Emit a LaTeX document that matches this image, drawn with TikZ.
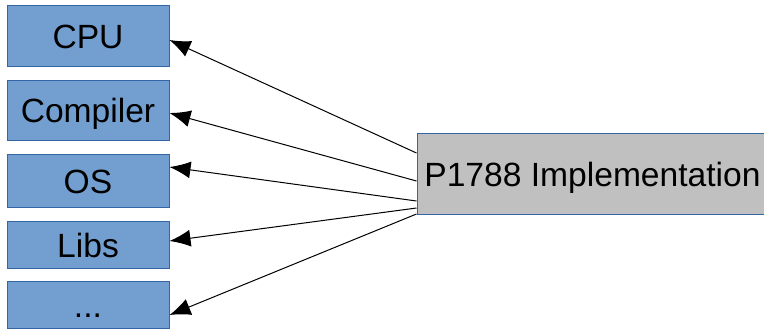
\documentclass[tikz,border=0pt]{standalone}
\usepackage{fontspec}
\setmainfont{Liberation Sans}
\definecolor{boxblue}{RGB}{114,159,207}
\definecolor{edgeblue}{RGB}{52,101,164}
\definecolor{implgray}{RGB}{192,192,192}
\usetikzlibrary{arrows.meta}

\tikzset{
  part/.style={draw=edgeblue, fill=boxblue, line width=0.5pt, inner sep=0pt,
    minimum width=81pt, text height=14pt, text depth=1.5pt,
    font=\fontsize{16.8}{20}\selectfont},
  dep/.style={-{Latex[length=10.5pt, width=8.5pt]}, line width=0.5pt}
}

\begin{document}
\begin{tikzpicture}[x=0.5pt, y=-0.5pt]
  \clip (0,0) rectangle (764,328);
  % things an implementation depends on
  \node[part, minimum height=30.5pt] (cpu) at (88, 35.5) {CPU};
  \node[part, minimum height=30pt] (compiler) at (88, 110) {Compiler};
  \node[part, minimum height=26.5pt] (os) at (88, 180.5) {OS};
  \node[part, minimum height=23.5pt] (libs) at (88, 244.5) {Libs};
  \node[part, minimum height=23.5pt] (more) at (88, 304.5) {...};
  \node[part, fill=implgray, minimum width=175.5pt, minimum height=40.5pt] (impl) at (592.5, 173.5) {P1788 Implementation};

  \foreach \n/\a/\b in {cpu/10.25/-2.25, compiler/-3.75/-1.5, os/-13.75/6.75,
                        libs/-17.25/1.75, more/-20.25/-5.25}
    \draw[dep] ([yshift=\a pt]impl.west) -- ([yshift=\b pt]\n.east);
\end{tikzpicture}
\end{document}
